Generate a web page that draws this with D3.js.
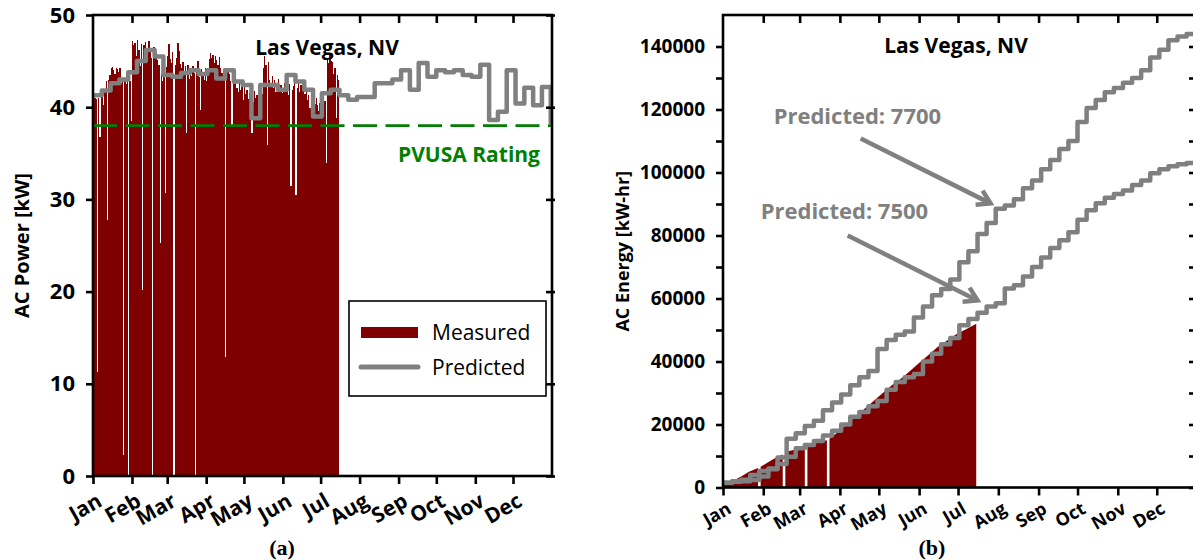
<!DOCTYPE html>
<html><head><meta charset="utf-8">
<script src="https://cdn.jsdelivr.net/npm/d3@7"></script>
<style>
body{margin:0;background:#fff}
svg{display:block}
text{font-family:"Open Sans",sans-serif;fill:#000}
</style>
</head><body>
<svg id="chart" width="1193" height="560"></svg>
<script>
// ---------------- DATA ----------------
const months = ["Jan","Feb","Mar","Apr","May","Jun","Jul","Aug","Sep","Oct","Nov","Dec"];
const monthStartDays = [0,31,59,90,120,151,181,212,243,273,304,334];

// (a) daily measured peak AC power [kW], Jan 1 .. Jul 15
const measuredPower = [
 40.8,41.0,40.9,11.3,41.0,36.8,41.2,41.5,40.2,41.6,
 42.8,27.8,43.0,43.5,44.2,44.4,44.0,43.6,44.3,44.1,
 43.8,44.2,42.6,43.2,2.3,43.0,42.5,43.4,0,42.8,
 38.5,47.2,46.8,47.0,45.6,47.3,46.2,44.5,46.9,20.2,
 46.7,47.1,45.8,46.4,47.2,46.0,45.3,0,46.5,46.2,
 46.0,45.1,44.6,25.3,43.6,42.8,43.9,30.7,44.4,45.6,
 46.9,45.2,44.8,46.0,0,44.6,45.3,47.0,46.1,44.7,
 44.3,44.9,43.8,44.5,37.2,44.6,43.1,44.0,43.4,44.5,
 43.7,0,44.2,45.0,43.3,39.7,44.1,43.5,43.0,44.2,
 42.8,43.6,45.2,45.9,45.3,45.7,44.8,45.5,45.1,44.6,
 45.4,44.2,43.7,44.0,42.9,12.9,43.8,44.3,43.6,42.8,
 37.8,43.2,42.5,43.4,42.1,41.6,42.8,41.9,42.4,40.8,
 42.2,41.4,41.9,40.9,41.5,41.2,37.2,40.6,41.8,41.0,
 41.3,40.5,41.7,40.8,41.4,44.3,45.5,44.6,35.9,44.9,
 43.0,42.6,43.4,42.1,42.9,41.6,42.3,43.1,41.8,42.4,
 41.5,42.0,42.6,41.7,42.2,41.3,42.5,31.5,41.9,42.3,
 42.7,30.5,42.1,42.9,41.6,42.4,42.0,42.6,41.4,41.9,
 40.8,41.3,39.9,40.6,41.1,39.8,40.4,41.0,40.2,39.6,
 40.5,40.0,39.5,41.2,40.7,34.0,45.3,44.8,45.7,45.0,
 44.9,43.6,44.2,38.8,43.5,43.0
];

// (a) predicted AC power [kW], one value per week (week starts Jan 1)
const predictedPowerWeekly = [
 41.3,41.8,42.6,43.0,43.8,45.0,46.2,45.5,43.5,43.3,
 43.7,44.0,43.6,44.0,43.1,44.0,42.8,42.4,38.8,42.4,
 42.4,41.9,43.5,42.8,41.9,39.0,41.5,41.9,41.3,40.8,
 41.1,41.1,42.6,42.6,43.0,44.0,41.9,44.8,43.3,44.0,
 43.8,44.0,43.5,43.3,44.6,38.6,39.5,44.0,40.4,42.1,
 40.2,42.2,38.3
];
const powerTicks = [0,10,20,30,40,50];
const pvusaRating = 38;

// (b) measured cumulative AC energy [kW-hr]: [day, value]; null = missing day
const measuredEnergy = [
 [0,800],[7,2000],[14,3500],[20,5000],[27,6200],[28,null],[29,6600],
 [36,8300],[42,9800],[46,10500],[47,null],[48,11300],[55,12000],[63,12600],
 [64,null],[65,13500],[72,14300],[80,15000],[81,null],[82,15500],
 [88,17500],[95,20000],[102,22500],[109,25000],[116,27500],[123,30000],
 [130,32500],[137,34500],[144,37000],[151,39500],[158,42000],[165,44500],
 [172,46500],[179,48500],[186,50000],[193,51500],[195,52000]
];
// (b) predicted cumulative energy, one value per week
const predicted7700 = [
 1500,2000,2500,4000,5200,6000,9500,15500,17200,19500,
 21200,24500,27000,29500,32500,35000,37000,44000,46800,48500,
 49500,54000,57500,61000,63000,66000,71500,75000,80500,84000,
 88500,89500,91500,95000,97500,101000,104000,107500,110000,116000,
 120500,123000,125500,126800,128500,130000,132500,136500,139000,142000,
 143200,144000,144800
];
const predicted7500 = [
 1500,1800,2000,2400,3500,5800,7500,9800,12500,13500,
 14800,16500,18000,20000,22500,24000,25800,27500,31000,33500,
 35000,36000,40000,42500,45500,47500,51500,53500,55500,57500,
 58500,63200,64200,67000,70000,73000,76000,78500,81000,85000,
 88000,90200,92000,93200,94300,96000,97500,99800,101000,102000,
 102600,103000,103300
];
const energyTickLabels = [0,20000,40000,60000,80000,100000,120000,140000];
const energyMinorTicks = [0,10000,20000,30000,40000,50000,60000,70000,80000,90000,100000,110000,120000,130000,140000];
const annotations = [
 {label:"Predicted: 7700", tx:39, ty:115500, from:[106,110800], to:[206,90200]},
 {label:"Predicted: 7500", tx:29, ty:85100, from:[96,80000], to:[196,59400]}
];

// ---------------- DRAW ----------------
const svg = d3.select("#chart");
const DARK_RED = "#7f0000", GREY = "#808080", GREEN = "#008000";
const weekDays = predictedPowerWeekly.map((d,i)=>i*7);

// ===== Panel (a) =====
const xA = d3.scaleLinear().domain([0,365]).range([93,552]);
const yA = d3.scaleLinear().domain([0,50]).range([476,15]);
const gA = svg.append("g");

gA.append("g").attr("shape-rendering","crispEdges")
  .selectAll("rect").data(measuredPower).join("rect")
  .attr("x",(d,i)=>xA(i)).attr("width",(d,i)=>xA(i+1)-xA(i))
  .attr("y",d=>yA(d)).attr("height",d=>yA(0)-yA(d))
  .attr("fill",DARK_RED);

gA.append("line")
  .attr("x1",xA(0)).attr("x2",xA(365)).attr("y1",yA(pvusaRating)).attr("y2",yA(pvusaRating))
  .attr("stroke",GREEN).attr("stroke-width",2.6).attr("stroke-dasharray","24,8.5");

const predA = predictedPowerWeekly.map((v,i)=>[weekDays[i],v]).concat([[365,predictedPowerWeekly[predictedPowerWeekly.length-1]]]);
gA.append("path").datum(predA)
  .attr("d",d3.line().curve(d3.curveStepAfter).x(d=>xA(d[0])).y(d=>yA(d[1])))
  .attr("fill","none").attr("stroke",GREY).attr("stroke-width",4.5).attr("stroke-linejoin","round");

// frame
gA.append("rect").attr("x",xA(0)).attr("y",yA(50)).attr("width",xA(365)-xA(0)).attr("height",yA(0)-yA(50))
  .attr("fill","none").attr("stroke","#000").attr("stroke-width",2.6);

// y axis left
const axLA = gA.append("g").attr("transform",`translate(${xA(0)},0)`)
  .call(d3.axisLeft(yA).tickValues(powerTicks).tickSize(7).tickPadding(11).tickFormat(d3.format("d")));
axLA.select(".domain").remove();
axLA.selectAll("line").attr("stroke-width",2.6).attr("x1",1);
axLA.selectAll("text").style("font-size","22px").style("font-weight",700).style("font-family","'Open Sans',sans-serif");
// y axis right ticks
const axRA = gA.append("g").attr("transform",`translate(${xA(365)},0)`)
  .call(d3.axisRight(yA).tickValues(powerTicks).tickSize(3).tickFormat(""));
axRA.select(".domain").remove();
axRA.selectAll("line").attr("stroke-width",2.6).attr("x1",-6);
// bottom ticks
const axBA = gA.append("g").attr("transform",`translate(0,${yA(0)})`)
  .call(d3.axisBottom(xA).tickValues(monthStartDays).tickSize(8).tickFormat(""));
axBA.select(".domain").remove();
axBA.selectAll("line").attr("stroke-width",2.6);
// top ticks
const axTA = gA.append("g").attr("transform",`translate(0,${yA(50)})`)
  .call(d3.axisBottom(xA).tickValues(monthStartDays.slice(1)).tickSize(8).tickFormat(""));
axTA.select(".domain").remove();
axTA.selectAll("line").attr("stroke-width",2.6);

// month labels
gA.selectAll("text.mon").data(months).join("text").attr("class","mon")
  .attr("transform",(d,i)=>`translate(${xA(monthStartDays[i])+3},${492}) rotate(-30)`)
  .attr("text-anchor","end").attr("dy","0.72em")
  .style("font-size","21px").style("font-weight",700).text(d=>d);

gA.append("text").attr("transform",`translate(22,${(yA(0)+yA(50))/2}) rotate(-90)`)
  .attr("text-anchor","middle").attr("dy","0.35em")
  .style("font-size","20px").style("font-weight",700).text("AC Power [kW]");

gA.append("text").attr("x",327).attr("y",55).attr("text-anchor","middle")
  .style("font-size","21px").style("font-weight",700).text("Las Vegas, NV");

gA.append("text").attr("x",540).attr("y",yA(pvusaRating)+36).attr("text-anchor","end")
  .style("font-size","21px").style("font-weight",700).style("fill",GREEN).text("PVUSA Rating");

// legend
const lg = gA.append("g");
lg.append("rect").attr("x",349).attr("y",301).attr("width",197).attr("height",95)
  .attr("fill","#fff").attr("stroke","#000").attr("stroke-width",1.6);
lg.append("rect").attr("x",361).attr("y",327).attr("width",57).attr("height",11).attr("fill",DARK_RED);
lg.append("line").attr("x1",361).attr("x2",418).attr("y1",367).attr("y2",367)
  .attr("stroke",GREY).attr("stroke-width",5).attr("stroke-linecap","round");
lg.append("text").attr("x",432).attr("y",340).style("font-size","21px").style("font-weight",500).text("Measured");
lg.append("text").attr("x",432).attr("y",375).style("font-size","21px").style("font-weight",500).text("Predicted");

svg.append("text").attr("x",282).attr("y",555).attr("text-anchor","middle")
  .style("font-family","'Liberation Serif',serif").style("font-size","22px").style("font-weight",700).text("(a)");

// ===== Panel (b) =====
const xB = d3.scaleLinear().domain([0,365]).range([723,1197]);
const yB = d3.scaleLinear().domain([0,150000]).range([487.5,15]);
const gB = svg.append("g");

gB.append("path").datum(measuredEnergy)
  .attr("d",d3.area().defined(d=>d[1]!==null).x(d=>xB(d[0])).y0(yB(0)).y1(d=>yB(d[1])))
  .attr("fill",DARK_RED);

[predicted7700,predicted7500].forEach(series=>{
  const pts = series.map((v,i)=>[i*7,v]).concat([[365,series[series.length-1]]]);
  gB.append("path").datum(pts)
    .attr("d",d3.line().curve(d3.curveStepAfter).x(d=>xB(d[0])).y(d=>yB(d[1])))
    .attr("fill","none").attr("stroke",GREY).attr("stroke-width",4.5).attr("stroke-linejoin","round");
});

gB.append("rect").attr("x",xB(0)).attr("y",yB(150000)).attr("width",xB(365)-xB(0)).attr("height",yB(0)-yB(150000))
  .attr("fill","none").attr("stroke","#000").attr("stroke-width",2.6);

const axLB = gB.append("g").attr("transform",`translate(${xB(0)},0)`)
  .call(d3.axisLeft(yB).tickValues(energyMinorTicks).tickSize(7).tickPadding(11)
    .tickFormat(d=>energyTickLabels.includes(d)?d3.format("d")(d):""));
axLB.select(".domain").remove();
axLB.selectAll("line").attr("stroke-width",2.6).attr("x1",1);
axLB.selectAll("text").style("font-size","19px").style("font-weight",700).style("font-family","'Open Sans',sans-serif");
const axRB = gB.append("g").attr("transform",`translate(${xB(365)},0)`)
  .call(d3.axisRight(yB).tickValues(energyMinorTicks).tickSize(2).tickFormat(""));
axRB.select(".domain").remove();
axRB.selectAll("line").attr("stroke-width",2.6).attr("x1",-8);
const axBB = gB.append("g").attr("transform",`translate(0,${yB(0)})`)
  .call(d3.axisBottom(xB).tickValues(monthStartDays).tickSize(8).tickFormat(""));
axBB.select(".domain").remove();
axBB.selectAll("line").attr("stroke-width",2.6);
const axTB = gB.append("g").attr("transform",`translate(0,${yB(150000)})`)
  .call(d3.axisBottom(xB).tickValues(monthStartDays.slice(1)).tickSize(8).tickFormat(""));
axTB.select(".domain").remove();
axTB.selectAll("line").attr("stroke-width",2.6);

gB.selectAll("text.mon").data(months).join("text").attr("class","mon")
  .attr("transform",(d,i)=>`translate(${xB(monthStartDays[i])+3},${501}) rotate(-30)`)
  .attr("text-anchor","end").attr("dy","0.72em")
  .style("font-size","18px").style("font-weight",700).text(d=>d);

gB.append("text").attr("transform",`translate(623,${(yB(0)+yB(150000))/2}) rotate(-90)`)
  .attr("text-anchor","middle").attr("dy","0.35em")
  .style("font-size","18px").style("font-weight",700).text("AC Energy [kW-hr]");

gB.append("text").attr("x",956).attr("y",53).attr("text-anchor","middle")
  .style("font-size","21px").style("font-weight",700).text("Las Vegas, NV");

// annotations
annotations.forEach(a=>{
  gB.append("text").attr("x",xB(a.tx)).attr("y",yB(a.ty))
    .style("font-size","22px").style("font-weight",700).style("fill",GREY).text(a.label);
  const x0=xB(a.from[0]), y0=yB(a.from[1]), x1=xB(a.to[0]), y1=yB(a.to[1]);
  const ang=Math.atan2(y1-y0,x1-x0), L=15, sp=0.55;
  gB.append("line").attr("x1",x0).attr("y1",y0).attr("x2",x1).attr("y2",y1)
    .attr("stroke",GREY).attr("stroke-width",4.5);
  gB.append("path")
    .attr("d",`M${x1-L*Math.cos(ang-sp)},${y1-L*Math.sin(ang-sp)}L${x1},${y1}L${x1-L*Math.cos(ang+sp)},${y1-L*Math.sin(ang+sp)}`)
    .attr("fill","none").attr("stroke",GREY).attr("stroke-width",4.5).attr("stroke-linejoin","miter");
});

svg.append("text").attr("x",932).attr("y",555).attr("text-anchor","middle")
  .style("font-family","'Liberation Serif',serif").style("font-size","22px").style("font-weight",700).text("(b)");
</script>
</body></html>
